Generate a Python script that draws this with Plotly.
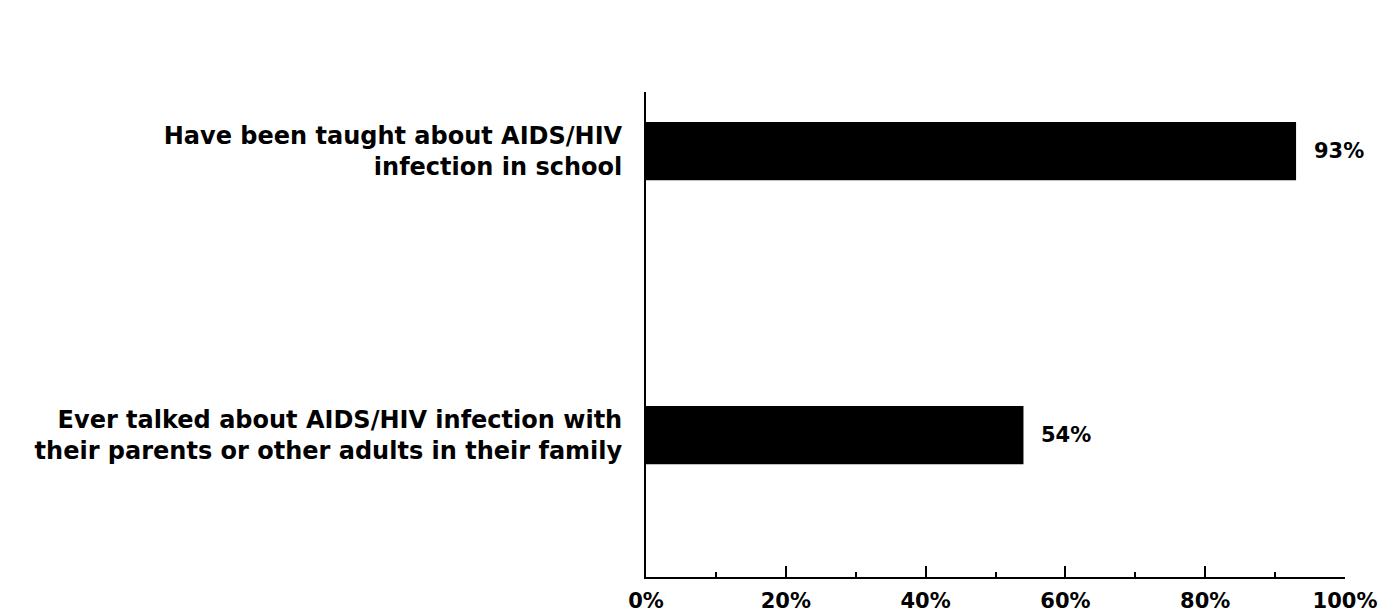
import plotly.graph_objects as go

# Данные
categories = [
    "Ever talked about AIDS/HIV infection with<br>their parents or other adults in their family",
    "Have been taught about AIDS/HIV<br>infection in school",
]
values = [54, 93]
x_ticks = [0, 20, 40, 60, 80, 100]
x_tick_labels = ["0%", "20%", "40%", "60%", "80%", "100%"]

LABEL_FONT = "DejaVu Sans"

fig = go.Figure()

fig.add_trace(go.Bar(
    x=values,
    y=categories,
    orientation="h",
    marker=dict(color="black", line=dict(width=0)),
    width=0.205,
    showlegend=False,
))

# подписи значений справа от столбцов
annotations = []
for cat, v in zip(categories, values):
    annotations.append(dict(
        x=v, y=cat, text=f"{v}%",
        xref="x", yref="y",
        xanchor="left", yanchor="middle",
        xshift=16,
        showarrow=False,
        font=dict(family=LABEL_FONT, size=21, color="black", weight="bold"),
    ))

# страница имеет отступ 8px, поэтому фигура чуть меньше окна
fig.update_layout(
    width=1384,
    height=604,
    margin=dict(l=638, r=47, t=84, b=35),
    paper_bgcolor="white",
    plot_bgcolor="white",
    annotations=annotations,
    xaxis=dict(
        range=[0, 100],
        tickvals=x_ticks,
        ticktext=x_tick_labels,
        ticks="inside",
        ticklen=11,
        tickwidth=2,
        tickcolor="black",
        minor=dict(dtick=10, ticks="inside", ticklen=5, tickwidth=2, tickcolor="black"),
        showline=True,
        linecolor="black",
        linewidth=2,
        showgrid=False,
        zeroline=False,
        tickfont=dict(family=LABEL_FONT, size=21, color="black", weight="bold"),
        ticklabelstandoff=4,
        automargin=False,
        fixedrange=True,
    ),
    yaxis=dict(
        categoryorder="array",
        categoryarray=categories,
        range=[-0.5, 1.208],
        showline=True,
        linecolor="black",
        linewidth=2,
        ticks="",
        showgrid=False,
        zeroline=False,
        tickfont=dict(family=LABEL_FONT, size=24, color="black", weight="bold"),
        ticklabelstandoff=17,
        automargin=False,
        fixedrange=True,
    ),
)

fig.write_html("out.html")
